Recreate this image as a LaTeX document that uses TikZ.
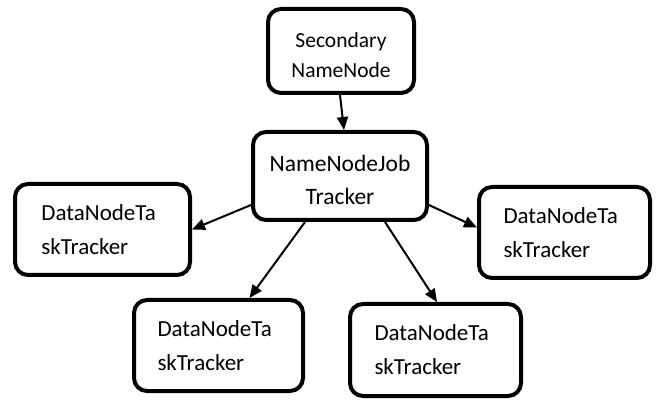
\documentclass[tikz,border=0pt]{standalone}
\usepackage{fontspec}
\setmainfont{Carlito}
\usetikzlibrary{arrows.meta}
\begin{document}
\begin{tikzpicture}[x=1pt,y=-1pt,
  box/.style={draw=black, line width=4pt, rounded corners=13pt, fill=white, inner sep=0pt},
  dbox/.style={box, font=\fontsize{23}{34}\selectfont, align=left, text width=122pt},
  lbl/.style={inner sep=0pt, align=center},
  arr/.style={line width=2pt, -{Triangle[length=13pt,width=11pt]}}]
\useasboundingbox (0,0) rectangle (657,401);
\node[box, minimum width=146pt, minimum height=84pt] (S) at (341,51) {};
\node[lbl, font=\fontsize{21.5}{30}\selectfont] (St) at ([yshift=-4pt]S.center) {Secondary\\NameNode};
\node[box, minimum width=174pt, minimum height=88pt] (N) at (340,176) {};
\node[lbl, font=\fontsize{23.5}{33}\selectfont] (Nt) at ([yshift=-4pt]N.center) {NameNodeJob\\Tracker};
\node[dbox, minimum width=175pt, minimum height=91pt] (L) at (102.5,229.5) {DataNodeTa\\skTracker};
\node[dbox, minimum width=169pt, minimum height=91pt] (BL) at (218.5,345.5) {DataNodeTa\\skTracker};
\node[dbox, minimum width=171pt, minimum height=91pt] (R) at (564.5,232.5) {DataNodeTa\\skTracker};
\node[dbox, minimum width=171pt, minimum height=92pt] (BR) at (435.5,350) {DataNodeTa\\skTracker};
\draw[arr] ([xshift=-1pt]S.south) -- ([xshift=4pt]N.north);
\draw[arr] ([yshift=-29pt]N.west) -- (L.east);
\draw[arr] ([yshift=-29pt]N.east) -- ([yshift=5pt]R.west);
\draw[arr] ([xshift=-35pt]N.south) -- ([xshift=31pt]BL.north);
\draw[arr] ([xshift=45pt]N.south) -- ([xshift=1.5pt]BR.north);
\end{tikzpicture}
\end{document}
